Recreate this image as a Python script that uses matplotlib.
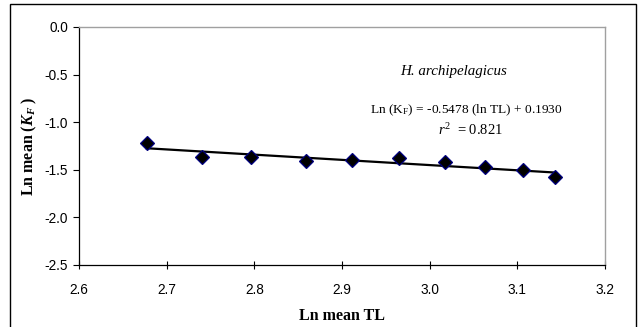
import numpy as np
import matplotlib
matplotlib.use("Agg")
import matplotlib.pyplot as plt
from matplotlib.patches import Rectangle

# Ln mean TL and Ln mean (K_F)
ln_tl = [2.677, 2.740, 2.796, 2.859, 2.911, 2.965, 3.017, 3.063, 3.106, 3.143]
ln_kf = [-1.222, -1.366, -1.366, -1.408, -1.397, -1.373, -1.415, -1.474, -1.499, -1.579]

# regression stated on the chart
slope = -0.5478
intercept = 0.1930
r_squared = 0.821

x_ticks = [2.6, 2.7, 2.8, 2.9, 3.0, 3.1, 3.2]
y_ticks = [0.0, -0.5, -1.0, -1.5, -2.0, -2.5]

SANS = "Liberation Sans"
SERIF = "Liberation Serif"

plt.rcParams["mathtext.fontset"] = "custom"
plt.rcParams["mathtext.rm"] = SERIF
plt.rcParams["mathtext.it"] = SERIF + ":italic"
plt.rcParams["mathtext.bf"] = SERIF + ":bold"
plt.rcParams["mathtext.bfit"] = SERIF + ":bold:italic"

fig = plt.figure(figsize=(6.39, 3.27), dpi=100)
W, H = 639, 327
ax = fig.add_axes([79 / W, 1 - 265 / H, (605 - 79) / W, (265 - 27) / H])

# outer chart frame
fig.patches.append(Rectangle((10 / W, -0.05), (636 - 10) / W, 1 - 4 / H + 0.05,
                             transform=fig.transFigure, fill=False,
                             edgecolor="black", linewidth=1.0))

# trend line over the data range
fit_x = np.array([min(ln_tl), max(ln_tl)])
fit_y = slope * fit_x + intercept
ax.plot(fit_x, fit_y, color="black", linewidth=1.6, zorder=2)

ax.plot(ln_tl, ln_kf, linestyle="none", marker="D", markersize=6.8,
        markerfacecolor="black", markeredgecolor="#000080",
        markeredgewidth=0.9, zorder=3)

ax.set_xlim(2.6, 3.2)
ax.set_ylim(-2.5, 0.0)
ax.set_xticks(x_ticks)
ax.set_yticks(y_ticks)
ax.set_xticklabels([f"{v:.1f}" for v in x_ticks], fontname=SANS, fontsize=9.8)
ax.set_yticklabels([f"{v:.1f}" for v in y_ticks], fontname=SANS, fontsize=9.8)
ax.tick_params(axis="x", direction="inout", length=6, width=0.8, pad=10)
ax.tick_params(axis="y", direction="out", length=4, width=0.8, pad=4)

for side in ["top", "right"]:
    ax.spines[side].set_color("#a0a0a0")
    ax.spines[side].set_linewidth(1.0)
for side in ["left", "bottom"]:
    ax.spines[side].set_color("black")
    ax.spines[side].set_linewidth(0.9)

ax.set_xlabel("Ln mean TL", fontname=SERIF, fontweight="bold", fontsize=11.5, labelpad=8)
ax.set_ylabel(r"Ln mean ($\mathbfit{K}_{\mathbfit{F}}$ )", fontname=SERIF,
              fontweight="bold", fontsize=11.5, labelpad=4)

ax.text(454 / W, 1 - 72 / H, "H. archipelagicus", transform=fig.transFigure,
        ha="center", va="center", fontname=SERIF, fontstyle="italic", fontsize=10.8)
ax.text(466 / W, 1 - 110 / H,
        r"Ln (K$_\mathrm{F}$) = %.4f (ln TL) + %.4f" % (slope, intercept),
        transform=fig.transFigure, ha="center", va="center",
        fontname=SERIF, fontsize=9.6)
ax.text(471 / W, 1 - 130 / H, r"$r^{\mathrm{2}}$  = %.3f" % r_squared,
        transform=fig.transFigure, ha="center", va="center",
        fontname=SERIF, fontsize=10.5)

fig.savefig("out.png", dpi=100)
